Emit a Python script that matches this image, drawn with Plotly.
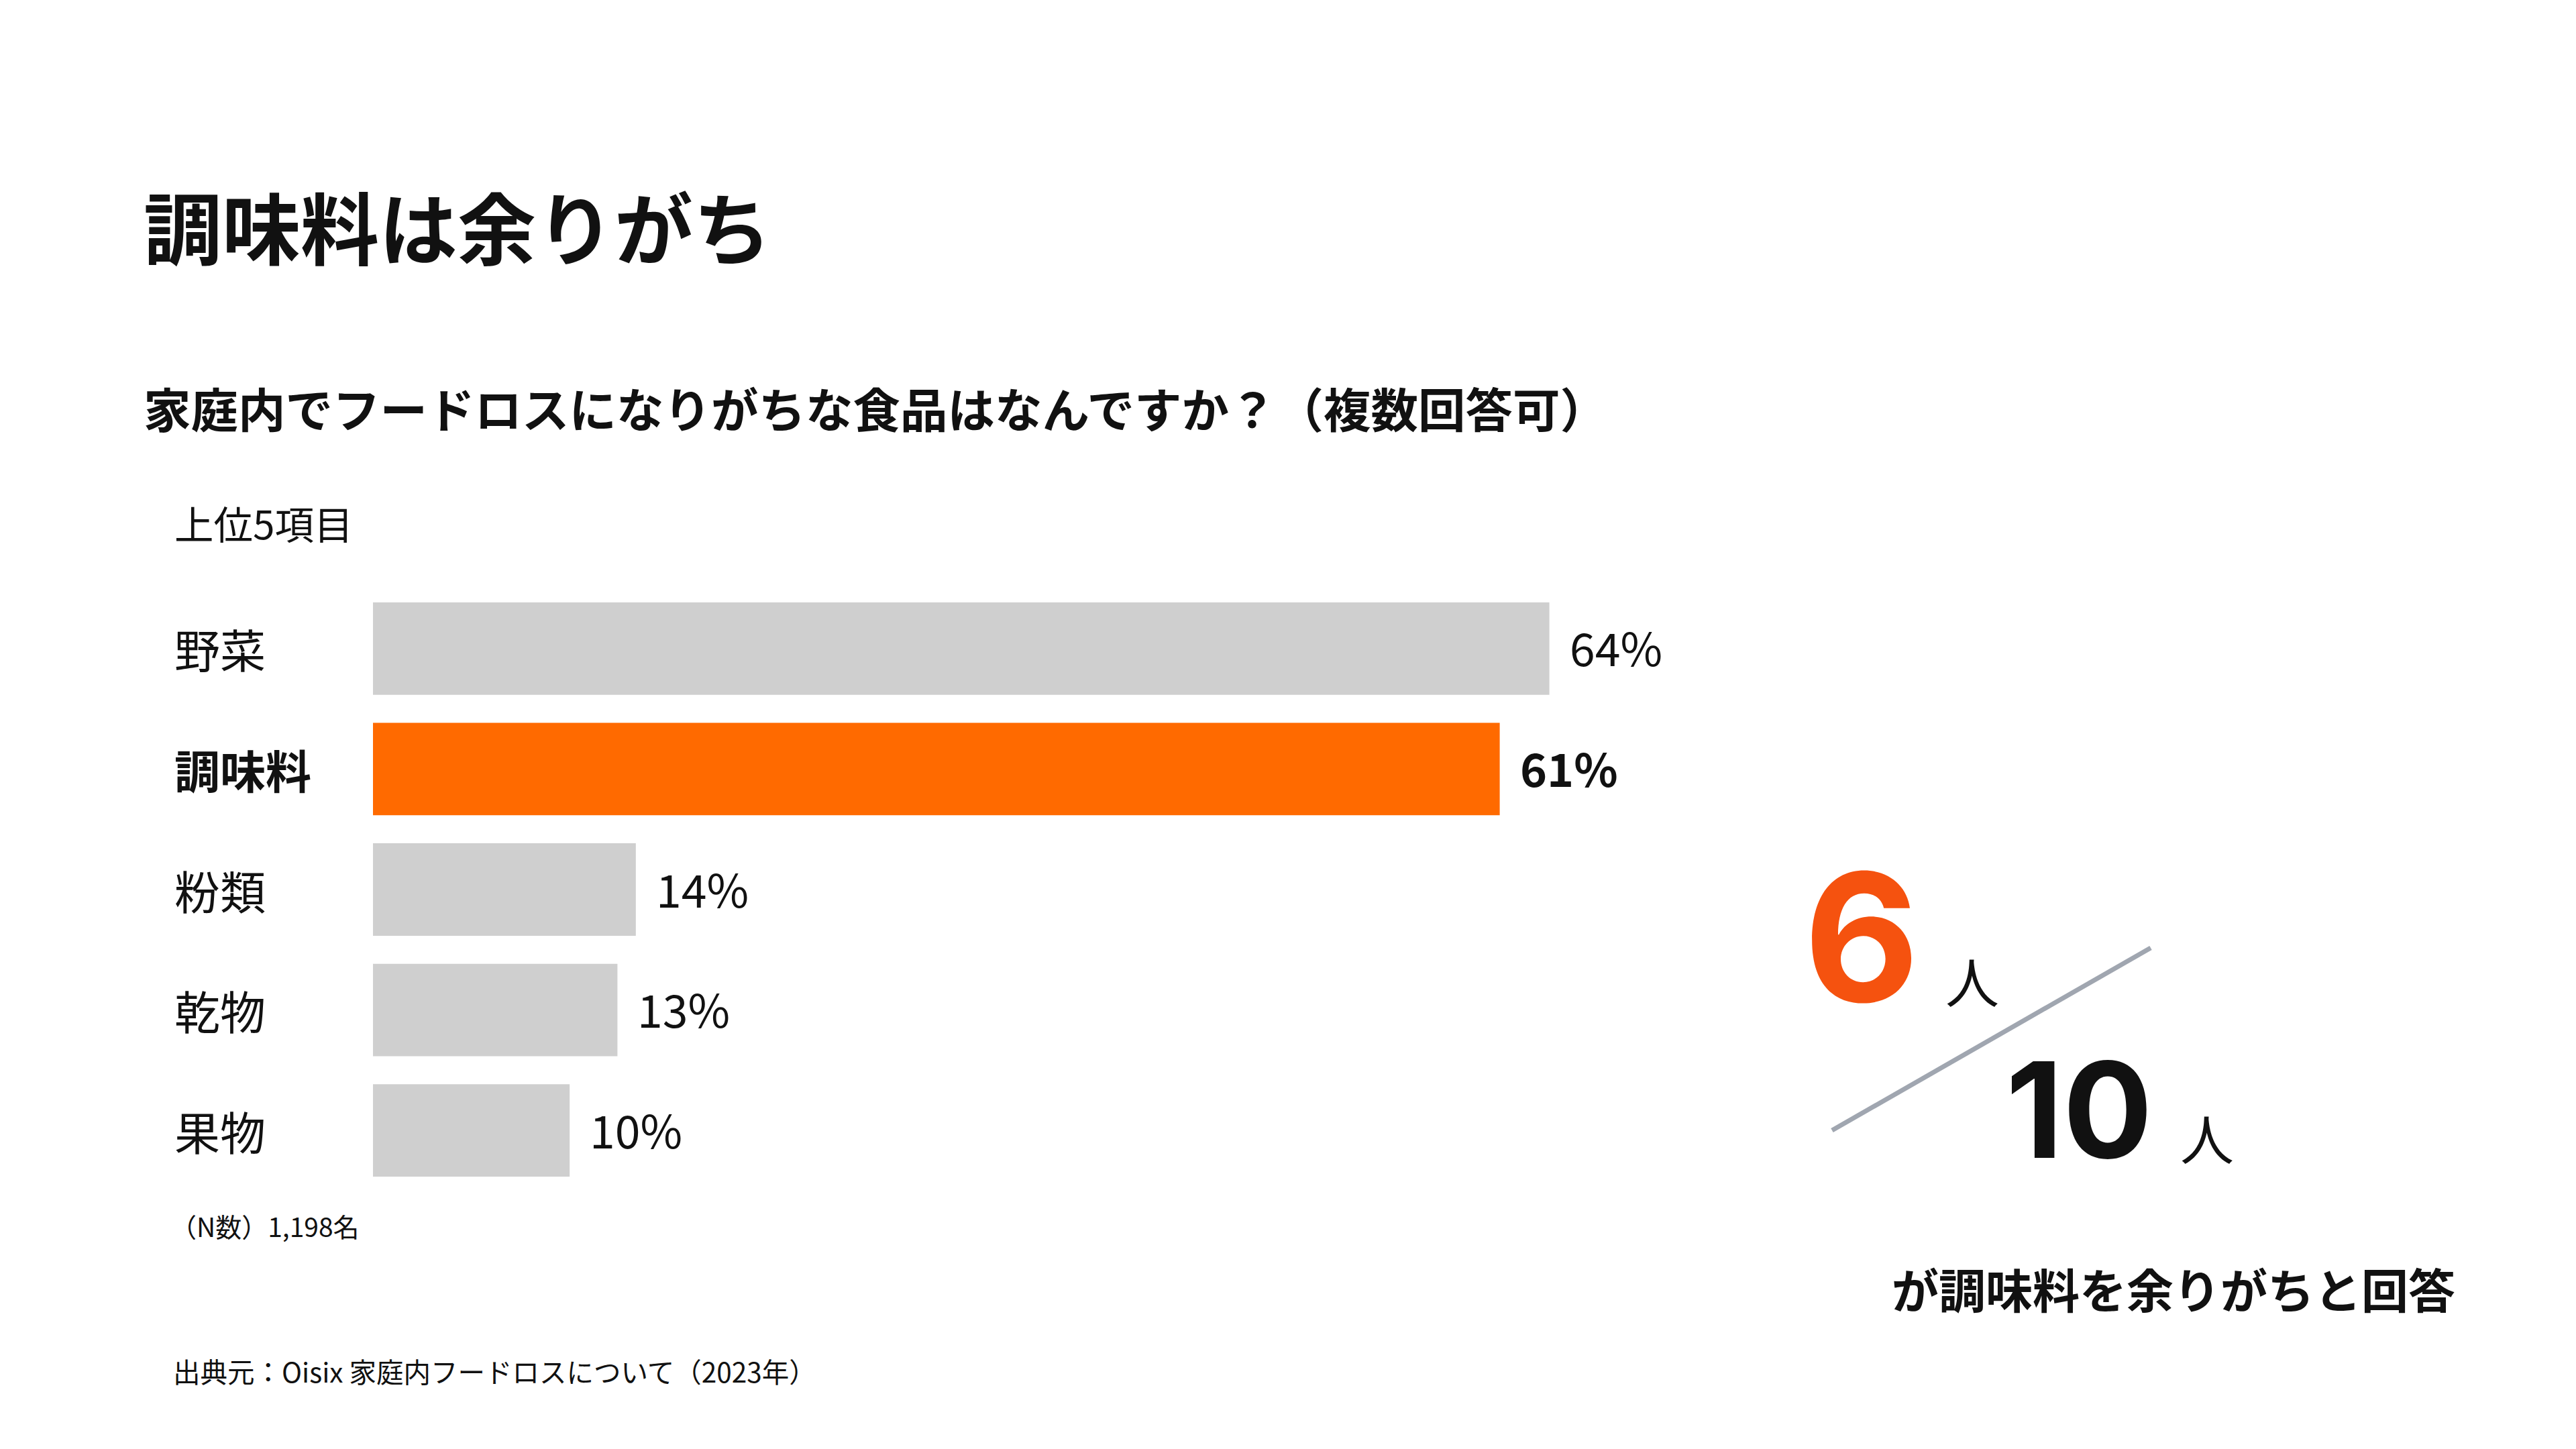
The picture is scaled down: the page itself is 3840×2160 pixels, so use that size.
import plotly.graph_objects as go

W, H = 3840, 2160

# ---- data ----
categories = ["野菜", "調味料", "粉類", "乾物", "果物"]
values = [64.0, 61.3, 14.3, 13.3, 10.7]
value_labels = ["64%", "61%", "14%", "13%", "10%"]
highlight = "調味料"

title_text = "調味料は余りがち"
question_text = "家庭内でフードロスになりがちな食品はなんですか？（複数回答可）"
top_label = "上位5項目"
n_note = "（N数）1,198名"
source_note = "出典元：Oisix 家庭内フードロスについて（2023年）"
ratio_num = 6
ratio_den = 10
ratio_unit = "人"
ratio_caption = "が調味料を余りがちと回答"

FONT = "Noto Sans CJK JP"
ORANGE = "#FF6A00"
ORANGE_BIG = "#F5520F"
GRAY = "#CFCFCF"
LINE_GRAY = "#A0A6B0"

def px(x):
    return x / W

def py(y):
    return 1 - y / H

colors = [ORANGE if c == highlight else GRAY for c in categories]

fig = go.Figure(go.Bar(
    x=values, y=categories, orientation="h",
    marker=dict(color=colors, line=dict(width=0)),
    hoverinfo="skip",
))

annotations = []
# category labels (left aligned)
for c in categories:
    txt = f"<b>{c}</b>" if c == highlight else c
    annotations.append(dict(
        x=px(258), xref="paper", y=c, yref="y", text=txt, showarrow=False,
        xanchor="left", yanchor="middle",
        font=dict(family=FONT, size=68, color="#111111"),
    ))
# value labels
for c, v, lab in zip(categories, values, value_labels):
    txt = f"<b>{lab}</b>" if c == highlight else lab
    annotations.append(dict(
        x=v, xref="x", y=c, yref="y", text=txt, showarrow=False,
        xanchor="left", yanchor="middle", xshift=28, yshift=3,
        font=dict(family=FONT, size=68, color="#111111"),
    ))

# texts
annotations += [
    dict(x=px(212), y=py(335), text=f"<b>{title_text}</b>",
         font=dict(family=FONT, size=117, color="#111111")),
    dict(x=px(212), y=py(607), text=f"<b>{question_text}</b>",
         font=dict(family=FONT, size=70.5, color="#111111")),
    dict(x=px(258), y=py(778), text=top_label,
         font=dict(family=FONT, size=58.5, color="#111111")),
    dict(x=px(252), y=py(1827), text=n_note,
         font=dict(family=FONT, size=39, color="#111111")),
    dict(x=px(256), y=py(2043), text=source_note,
         font=dict(family=FONT, size=40.5, color="#111111")),
    # big ratio
    dict(x=px(2775), y=py(1396), xanchor="center", text=f"<b>{ratio_num}</b>",
         font=dict(family="Inter", size=265, color=ORANGE_BIG)),
    dict(x=px(2940), y=py(1460), xanchor="center", text=ratio_unit,
         font=dict(family=FONT, size=80, color="#111111")),
    dict(x=px(3099), y=py(1654), xanchor="center", text=f"<b>{ratio_den}</b>",
         font=dict(family="Inter", size=198, color="#111111")),
    dict(x=px(3290), y=py(1694), xanchor="center", text=ratio_unit,
         font=dict(family=FONT, size=80, color="#111111")),
    dict(x=px(3240), y=py(1920), xanchor="center", text=f"<b>{ratio_caption}</b>",
         font=dict(family=FONT, size=70, color="#111111")),
]
for a in annotations:
    a.setdefault("xref", "paper")
    a.setdefault("yref", "paper")
    a.setdefault("showarrow", False)
    a.setdefault("xanchor", "left")
    a.setdefault("yanchor", "middle")

fig.update_layout(
    width=W, height=H,
    margin=dict(l=0, r=0, t=0, b=0),
    paper_bgcolor="white", plot_bgcolor="white",
    showlegend=False,
    bargap=0.233,
    xaxis=dict(range=[0, 100], domain=[px(556), px(556 + 2740)], visible=False, fixedrange=True),
    yaxis=dict(categoryorder="array", categoryarray=categories, autorange="reversed",
               domain=[py(1775), py(877)], visible=False, fixedrange=True),
    annotations=annotations,
    shapes=[dict(type="line", xref="paper", yref="paper",
                 x0=px(2731), y0=py(1685), x1=px(3206), y1=py(1413),
                 line=dict(color=LINE_GRAY, width=7))],
)

fig.write_html("out.html", config={"displayModeBar": False})
